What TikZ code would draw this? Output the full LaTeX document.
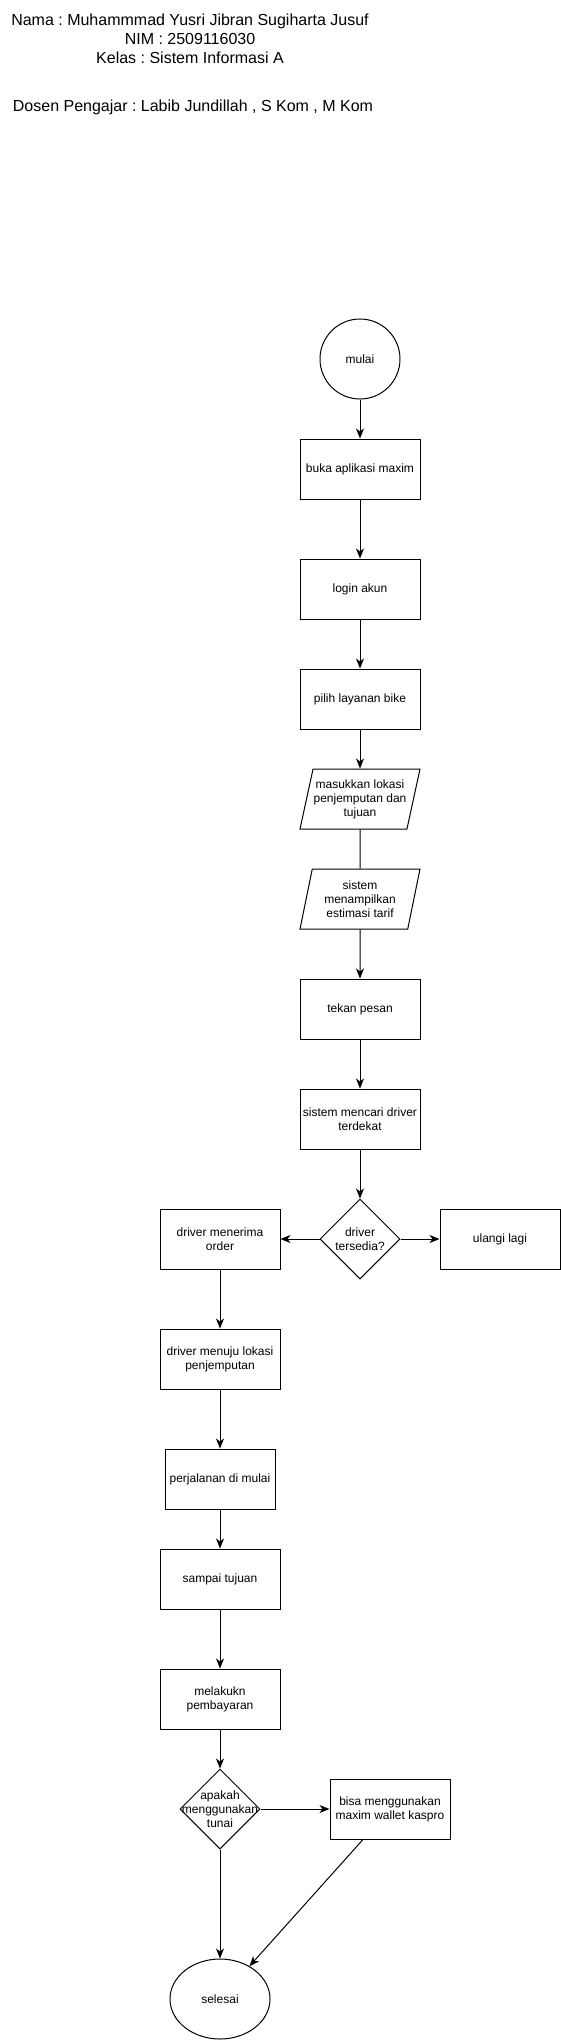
\documentclass[tikz,border=0pt]{standalone}
\usepackage{fontspec}
\setmainfont{Liberation Sans}
\usetikzlibrary{shapes.geometric,arrows.meta}
\frenchspacing

\begin{document}
\begin{tikzpicture}[x=1pt,y=-1pt,line width=1pt]
\tikzstyle{every node}=[font=\fontsize{12}{14}\selectfont,align=center,inner sep=0pt]
\tikzstyle{judul}=[anchor=base,font=\fontsize{16}{19}\selectfont]
\tikzstyle{proses}=[draw,minimum width=120,minimum height=60]
\tikzstyle{data}=[draw,trapezium,trapezium left angle=71.57,trapezium right angle=108.43,trapezium stretches body,minimum width=120,minimum height=60]
\tikzstyle{keputusan}=[draw,diamond,minimum width=80,minimum height=80]
\tikzstyle{panah}=[-{Stealth[length=10pt,width=8pt,inset=3pt]}]
\useasboundingbox (0,0) rectangle (561,2040);

% identitas
\node[judul] (nama) at (190,25) {Nama : Muhammmad Yusri Jibran Sugiharta Jusuf};
\node[judul] (nim) at (190,44) {NIM : 2509116030};
\node[judul] (kelas) at (190,63) {Kelas : Sistem Informasi A};
\node[judul] (dosen) at (193,111) {Dosen Pengajar : Labib Jundillah , S Kom , M Kom};

% alur utama
\node[circle,draw,minimum size=80] (mulai) at (360,359) {mulai};
\node[proses] (buka) at (360,469) {buka aplikasi maxim};
\node[proses] (login) at (360,589) {login akun};
\node[proses] (pilih) at (360,699) {pilih layanan bike};
\node[data] (lokasi) at (360,799) {masukkan lokasi\\penjemputan dan\\tujuan};
\node[data] (tarif) at (360,899) {sistem\\menampilkan\\estimasi tarif};
\node[proses] (pesan) at (360,1009) {tekan pesan};
\node[proses] (cari) at (360,1119) {sistem mencari driver\\terdekat};
\node[keputusan,label=center:{driver\\tersedia?}] (tersedia) at (360,1239) {};
\node[proses] (terima) at (220,1239) {driver menerima\\order};
\node[proses] (ulangi) at (500,1239) {ulangi lagi};
\node[proses] (menuju) at (220,1359) {driver menuju lokasi\\penjemputan};
\node[proses,minimum width=110] (jalan) at (220,1479) {perjalanan di mulai};
\node[proses] (sampai) at (220,1579) {sampai tujuan};
\node[proses] (bayar) at (220,1699) {melakukn\\pembayaran};
\node[keputusan,label=center:{apakah\\menggunakan\\tunai}] (tunai) at (220,1809) {};
\node[proses] (kaspro) at (390,1809) {bisa menggunakan\\maxim wallet kaspro};
\node[ellipse,draw,minimum width=100,minimum height=80] (selesai) at (220,1999) {selesai};

\draw[panah] (mulai) -- (buka);
\draw[panah] (buka) -- (login);
\draw[panah] (login) -- (pilih);
\draw[panah] (pilih) -- (lokasi);
\draw (lokasi) -- (tarif);
\draw[panah] (tarif) -- (pesan);
\draw[panah] (pesan) -- (cari);
\draw[panah] (cari) -- (tersedia);
\draw[panah] (tersedia) -- (terima);
\draw[panah] (tersedia) -- (ulangi);
\draw[panah] (terima) -- (menuju);
\draw[panah] (menuju) -- (jalan);
\draw[panah] (jalan) -- (sampai);
\draw[panah] (sampai) -- (bayar);
\draw[panah] (bayar) -- (tunai);
\draw[panah] (tunai) -- (kaspro);
\draw[panah] (tunai) -- (selesai);
\draw[panah] (kaspro.south -| 363,0) -- (selesai);
\end{tikzpicture}
\end{document}
